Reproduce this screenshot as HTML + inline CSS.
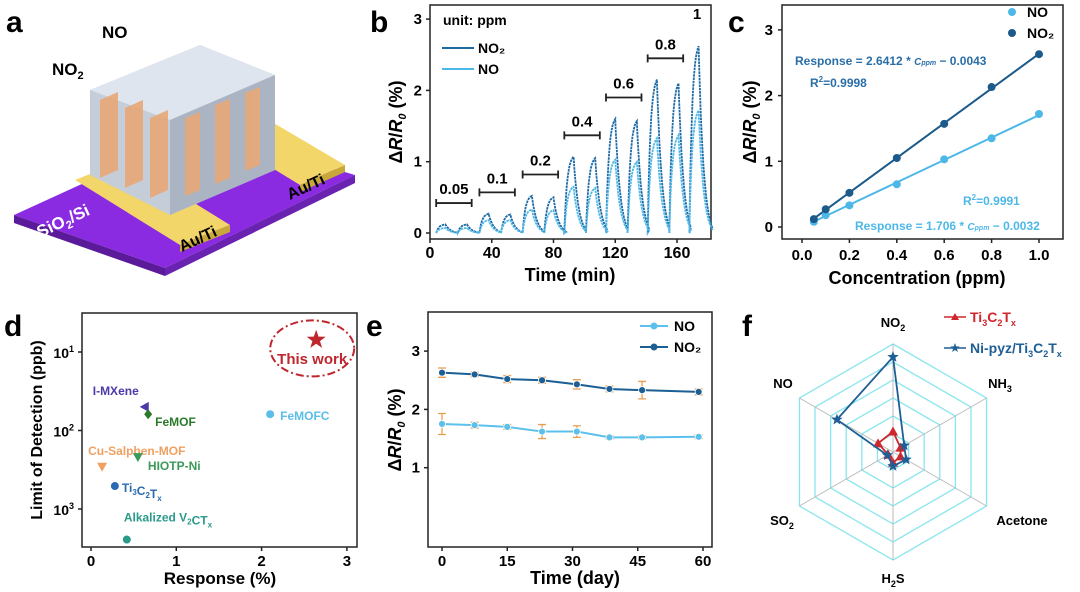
<!DOCTYPE html>
<html><head><meta charset="utf-8"><style>
html,body{margin:0;padding:0;background:#fff}
svg{display:block;font-family:"Liberation Sans",Arial,sans-serif;font-weight:bold}
</style></head><body>
<svg id="fig" width="1080" height="592" viewBox="0 0 1080 592">
<text x="6" y="32" font-size="30">a</text>
<text x="370" y="32" font-size="30">b</text>
<text x="728" y="32" font-size="30">c</text>
<text x="4" y="336" font-size="30">d</text>
<text x="366" y="336" font-size="30">e</text>
<text x="742" y="336" font-size="30">f</text>

<g>
<polygon points="14,215 200,130 355,175 165,268" fill="#8a2be2"/>
<polygon points="14,215 165,268 165,276 14,223" fill="#5a1a9a"/>
<polygon points="165,268 355,175 355,183 165,276" fill="#6a22b0"/>
<polygon points="75,180 125,160 230,225 180,245" fill="#f2d66a"/>
<polygon points="180,245 230,225 230,232 180,252" fill="#c9a83a"/>
<polygon points="210,130 255,112 345,165 300,185" fill="#f2d66a"/>
<polygon points="300,185 345,165 345,172 300,192" fill="#c9a83a"/>
<polygon points="90,90 200,45 275,75 275,170 170,215 90,175" fill="#c5cdd8"/>
<polygon points="90,90 200,45 275,75 170,120" fill="#dfe5ee"/>
<polygon points="170,120 275,75 275,170 170,215" fill="#aab4c2"/>
<g fill="#e8a878" opacity="0.9">
<polygon points="100,100 118,92 118,170 100,178"/><polygon points="125,108 143,100 143,180 125,188"/>
<polygon points="150,118 168,110 168,190 150,198"/><polygon points="185,118 200,112 200,190 185,196"/>
<polygon points="215,105 230,99 230,178 215,184"/><polygon points="245,93 260,87 260,165 245,171"/>
</g>
<text x="102" y="38" font-size="17">NO</text>
<text x="52" y="75" font-size="17">NO<tspan font-size="11" dy="4">2</tspan></text>
<text x="40" y="238" font-size="17" fill="#fff" transform="rotate(-25 40 238)">SiO<tspan font-size="11" dy="4">2</tspan><tspan dy="-4">/Si</tspan></text>
<text x="182" y="252" font-size="16" transform="rotate(-25 182 252)">Au/Ti</text>
<text x="290" y="200" font-size="16" transform="rotate(-25 290 200)">Au/Ti</text>
</g>

<g id="pb"></g>
<g id="pc"></g>
<g id="pd"></g>
<g id="pe"></g>
<g id="pf"></g>
</svg>
<script>
const bStarts=[4,18,32,46,60,74,87,101,114,128,141,155,168];
const bNO2=[0.12,0.12,0.27,0.26,0.52,0.50,1.07,1.05,1.60,1.57,2.15,2.10,2.62];
const bNO=[0.07,0.07,0.18,0.18,0.33,0.32,0.65,0.63,1.03,1.00,1.33,1.37,1.72];
const bConcLabels=['0.05','0.1','0.2','0.4','0.6','0.8','1'];
const bXTicks=[0,40,80,120,160];
const bYTicks=[0,1,2,3];
const cConc=[0.05,0.1,0.2,0.4,0.6,0.8,1.0];
const cNO2=[0.12,0.27,0.52,1.05,1.57,2.13,2.63];
const cNO=[0.08,0.18,0.33,0.65,1.03,1.35,1.72];
const cXTicks=[0,0.2,0.4,0.6,0.8,1.0];
const dNames=['This work','I-MXene','FeMOF','FeMOFC','Cu-Salphen-MOF','HIOTP-Ni','Ti3C2Tx','Alkalized V2CTx'];
const dResp=[2.64,0.63,0.67,2.10,0.13,0.55,0.28,0.42];
const dLod=[7,50,62,62,290,218,510,2450];
const eDays=[0,7.5,15,23,31,38.5,46,59];
const eNO2=[2.63,2.60,2.52,2.50,2.43,2.35,2.33,2.30];
const eNO2Err=[0.08,0.04,0.06,0.05,0.08,0.05,0.15,0.05];
const eNO=[1.75,1.73,1.70,1.62,1.62,1.52,1.52,1.53];
const eNOErr=[0.18,0.05,0.04,0.12,0.1,0.03,0.03,0.03];
const fAxes=['NO2','NH3','Acetone','H2S','SO2','NO'];
const fTi=[0.19,0.08,0.08,0.10,0.05,0.16];
const fNi=[0.88,0.12,0.14,0.13,0.06,0.60];

const NS='http://www.w3.org/2000/svg';
function mk(p,tag,a){const e=document.createElementNS(NS,tag);for(const k in a)e.setAttribute(k,a[k]);p.appendChild(e);return e;}
function txt(p,x,y,s,a){const e=mk(p,'text',Object.assign({x:x,y:y},a||{}));e.textContent=s;return e;}
function star(cx,cy,ro,ri){const p=[];for(let i=0;i<10;i++){const r=i%2?ri:ro,a=-Math.PI/2+i*Math.PI/5;p.push((cx+r*Math.cos(a)).toFixed(1)+','+(cy+r*Math.sin(a)).toFixed(1));}return p;}
const DK='#1d6aa5',LT='#4db8e8';

(function(){
const g=document.getElementById('pb');
const L=430,R=711,T=5,B=239;
const X=v=>L+v*(677-430)/160, Y=v=>233-v*71.3;
let el=mk(g,'rect',{x:L,y:T,width:R-L,height:B-T,fill:'none',stroke:'#222','stroke-width':1.5});


const RISE=6,SPAN=14;
function curve(vals,col,name){
 let d='';
 for(let i=0;i<bStarts.length;i++){
  const s=bStarts[i],pk=vals[i];
  const span=i===bStarts.length-1?15:SPAN;
  for(let t=0;t<=span;t+=0.25){
   let v=t<=RISE? pk*(1-Math.exp(-t/1.8))/(1-Math.exp(-RISE/1.8)) : pk*(Math.exp(-(t-RISE)/3.2)-(t-RISE)/span*Math.exp(-(span-RISE)/3.2));
   d+=(d?'L':'M')+X(s+t).toFixed(1)+','+Y(Math.max(v,0)).toFixed(1);
  }
 }
 const p=mk(g,'path',{d:d,fill:'none',stroke:col,'stroke-width':1.8,'stroke-dasharray':'2.5 0.8'});
 
 
}
curve(bNO2,DK,'no2-series-line');
curve(bNO,LT,'no-series-line');
for(let k=0;k<bConcLabels.length;k++){
 const a=bStarts[2*k], b=k<6?bStarts[2*k+1]+9:a+9;
 const yb=Math.max(bNO2[2*k],bNO2[Math.min(2*k+1,12)])+0.3;
 if(k<6){
  el=mk(g,'path',{d:`M${X(a)},${Y(yb)-4}v8M${X(a)},${Y(yb)}H${X(b)}M${X(b)},${Y(yb)-4}v8`,stroke:'#222','stroke-width':1.8,fill:'none'});
  
  
 }
 el=txt(g,k<6?(X(a)+X(b))/2:X(a+5),k<6?Y(yb)-9:Y(yb)-6,bConcLabels[k],{'font-size':15,'text-anchor':'middle'});
 
 
}
bXTicks.forEach(v=>{el=mk(g,'line',{x1:X(v),x2:X(v),y1:B,y2:B+4,stroke:'#222','stroke-width':1.5});
 
 el=txt(g,X(v),B+19,String(v),{'font-size':16,'text-anchor':'middle'});
 });
bYTicks.forEach(v=>{el=mk(g,'line',{x1:L-4,x2:L,y1:Y(v),y2:Y(v),stroke:'#222','stroke-width':1.5});
 
 el=txt(g,L-8,Y(v)+5,String(v),{'font-size':15,'text-anchor':'end'});
 });
el=txt(g,570,281,'Time (min)',{'font-size':18,'text-anchor':'middle'});

el=txt(g,0,0,'',{'font-size':18,'text-anchor':'middle',transform:'translate(402,122) rotate(-90)'});
el.innerHTML='Δ<tspan font-style="italic">R</tspan>/<tspan font-style="italic">R</tspan><tspan font-size="11" dy="4" font-style="italic">0</tspan><tspan dy="-4"> (%)</tspan>';

el=txt(g,443,25,'unit: ppm',{'font-size':14});

[[DK,'NO₂',48],[LT,'NO',69]].forEach(([c,s,y])=>{
 el=mk(g,'line',{x1:442,x2:474,y1:y,y2:y,stroke:c,'stroke-width':2});
 
 el=txt(g,478,y+5,s,{'font-size':14});
 
});
})();

(function(){
const g=document.getElementById('pc');
const L=782,R=1063,T=5,B=239;
const X=v=>802+v*237, Y=v=>227-v*65.7;
let el=mk(g,'rect',{x:L,y:T,width:R-L,height:B-T,fill:'none',stroke:'#222','stroke-width':1.5});

el=mk(g,'line',{x1:X(0.05),y1:Y(2.6412*0.05-0.0043),x2:X(1),y2:Y(2.6412-0.0043),stroke:'#1b5a8a','stroke-width':2});

el=mk(g,'line',{x1:X(0.05),y1:Y(1.706*0.05-0.0032),x2:X(1),y2:Y(1.706-0.0032),stroke:LT,'stroke-width':2});

cConc.forEach((c,i)=>{
 el=mk(g,'circle',{cx:X(c),cy:Y(cNO[i]),r:4,fill:LT});
 
 el=mk(g,'circle',{cx:X(c),cy:Y(cNO2[i]),r:4,fill:'#1b5a8a'});
 
});
cXTicks.forEach(v=>{el=mk(g,'line',{x1:X(v),x2:X(v),y1:B,y2:B+4,stroke:'#222','stroke-width':1.5});
 
 el=txt(g,X(v),B+21,v.toFixed(1),{'font-size':15,'text-anchor':'middle'});
 });
[0,1,2,3].forEach(v=>{el=mk(g,'line',{x1:L-4,x2:L,y1:Y(v),y2:Y(v),stroke:'#222','stroke-width':1.5});
 
 el=txt(g,L-9,Y(v)+5,String(v),{'font-size':15,'text-anchor':'end'});
 });
el=txt(g,917,284,'Concentration (ppm)',{'font-size':18,'text-anchor':'middle'});

el=txt(g,0,0,'',{'font-size':18,'text-anchor':'middle',transform:'translate(756,122) rotate(-90)'});
el.innerHTML='Δ<tspan font-style="italic">R</tspan>/<tspan font-style="italic">R</tspan><tspan font-size="11" dy="4" font-style="italic">0</tspan><tspan dy="-4"> (%)</tspan>';

el=txt(g,795,65,'',{'font-size':12,fill:'#2a6ea8'});
el.innerHTML='Response = 2.6412 * <tspan font-style="italic" font-size="10">C</tspan><tspan font-style="italic" font-size="7">ppm</tspan> − 0.0043';

el=txt(g,810,87,'',{'font-size':12,fill:'#2a6ea8'});el.innerHTML='R<tspan font-size="8" dy="-5">2</tspan><tspan dy="5">=0.9998</tspan>';

el=txt(g,963,205,'',{'font-size':12,fill:LT});el.innerHTML='R<tspan font-size="8" dy="-5">2</tspan><tspan dy="5">=0.9991</tspan>';

el=txt(g,855,230,'',{'font-size':12,fill:LT});
el.innerHTML='Response = 1.706 * <tspan font-style="italic" font-size="10">C</tspan><tspan font-style="italic" font-size="7">ppm</tspan> − 0.0032';

[[LT,'NO',17],['#1b5a8a','NO₂',38]].forEach(([c,s,y])=>{
 el=mk(g,'circle',{cx:1012,cy:y-5,r:4,fill:c});
 
 el=txt(g,1027,y,s,{'font-size':14});
 
});
})();

(function(){
const g=document.getElementById('pd');
const L=82,R=357,T=313,B=547;
const X=v=>91+v*85.3, Y=v=>352+(Math.log10(v)-1)*78.5;
let el=mk(g,'rect',{x:L,y:T,width:R-L,height:B-T,fill:'none',stroke:'#222','stroke-width':1.5});

const cols=['#c0262d','#4b3aa8','#2a7a2a','#5bbde8','#f0a060','#3a9a5a','#2a6ab0','#2a9a8a'];
const lblOff=[[-999,0],[-52,-12],[7,12],[10,6],[-14,-12],[10,13],[7,6],[-3,-18]];
dNames.forEach((n,i)=>{
 const x=X(dResp[i]),y=Y(dLod[i]);let m;
 if(i===0){m=mk(g,'polygon',{points:star(x,y,10,4).join(' '),fill:cols[i]});}
 else if(i===4||i===5){m=mk(g,'polygon',{points:`${x-5},${y-4} ${x+5},${y-4} ${x},${y+5}`,fill:cols[i]});}
 else if(i===1){m=mk(g,'polygon',{points:`${x-5},${y} ${x+4},${y-5} ${x+4},${y+5}`,fill:cols[i]});}
 else if(i===2){m=mk(g,'polygon',{points:`${x},${y-5} ${x+4},${y} ${x},${y+5} ${x-4},${y}`,fill:cols[i]});}
 else m=mk(g,'circle',{cx:x,cy:y,r:4,fill:cols[i]});
 
 if(i>0){
  const t=txt(g,x+lblOff[i][0],y+lblOff[i][1],'',{'font-size':12,fill:cols[i]});
  t.innerHTML=n.replace(/(\d)/g,'<tspan font-size="8" dy="3">$1</tspan><tspan dy="-3"></tspan>').replace(/Tx/g,'T<tspan font-size="8" dy="3">x</tspan>');
  
 }
});
el=mk(g,'ellipse',{cx:X(2.64)-4,cy:Y(9),rx:42,ry:28,fill:'none',stroke:'#c0262d','stroke-width':2,'stroke-dasharray':'8 3 2 3'});

el=txt(g,X(2.64)-4,Y(10)+12,'This work',{'font-size':15,'text-anchor':'middle',fill:'#c0262d'});

[0,1,2,3].forEach(v=>{el=mk(g,'line',{x1:X(v),x2:X(v),y1:B,y2:B+4,stroke:'#222','stroke-width':1.5});
 
 el=txt(g,X(v),B+19,String(v),{'font-size':15,'text-anchor':'middle'});
 });
[10,100,1000].forEach((v,k)=>{el=mk(g,'line',{x1:L-4,x2:L,y1:Y(v),y2:Y(v),stroke:'#222','stroke-width':1.5});
 
 el=txt(g,L-8,Y(v)+6,'',{'font-size':14,'text-anchor':'end'});el.innerHTML='10<tspan font-size="9" dy="-6">'+(k+1)+'</tspan>';
 });
el=txt(g,220,584,'Response (%)',{'font-size':17,'text-anchor':'middle'});

el=txt(g,0,0,'Limit of Detection (ppb)',{'font-size':16,'text-anchor':'middle',transform:'translate(42,430) rotate(-90)'});

})();

(function(){
const g=document.getElementById('pe');
const L=428,R=712,T=312,B=547;
const X=v=>442+v*4.35, Y=v=>526-v*58.3;
let el=mk(g,'rect',{x:L,y:T,width:R-L,height:B-T,fill:'none',stroke:'#222','stroke-width':1.5});

function ser(v,err,col,name){
 v.forEach((y,i)=>{el=mk(g,'path',{d:`M${X(eDays[i])},${Y(y-err[i])}V${Y(y+err[i])}M${X(eDays[i])-4},${Y(y-err[i])}h8M${X(eDays[i])-4},${Y(y+err[i])}h8`,stroke:'#e8a050','stroke-width':1.3,fill:'none'});
  });
 el=mk(g,'polyline',{points:v.map((y,i)=>X(eDays[i])+','+Y(y)).join(' '),fill:'none',stroke:col,'stroke-width':2});
 
 v.forEach((y,i)=>{el=mk(g,'circle',{cx:X(eDays[i]),cy:Y(y),r:3.5,fill:col,stroke:'#fff','stroke-width':0.8});
  });
}
ser(eNO,eNOErr,'#5bc0eb','no');
ser(eNO2,eNO2Err,'#1b5f94','no2');
[0,15,30,45,60].forEach(v=>{el=mk(g,'line',{x1:X(v),x2:X(v),y1:B,y2:B+4,stroke:'#222','stroke-width':1.5});
 
 el=txt(g,X(v),B+19,String(v),{'font-size':15,'text-anchor':'middle'});
 });
[1,2,3].forEach(v=>{el=mk(g,'line',{x1:L-4,x2:L,y1:Y(v),y2:Y(v),stroke:'#222','stroke-width':1.5});
 
 el=txt(g,L-8,Y(v)+5,String(v),{'font-size':15,'text-anchor':'end'});
 });
el=txt(g,575,584,'Time (day)',{'font-size':18,'text-anchor':'middle'});

el=txt(g,0,0,'',{'font-size':18,'text-anchor':'middle',transform:'translate(401,430) rotate(-90)'});
el.innerHTML='Δ<tspan font-style="italic">R</tspan>/<tspan font-style="italic">R</tspan><tspan font-size="11" dy="4" font-style="italic">0</tspan><tspan dy="-4"> (%)</tspan>';

[['#5bc0eb','NO',326],['#1b5f94','NO₂',347]].forEach(([c,s,y])=>{
 el=mk(g,'line',{x1:640,x2:668,y1:y,y2:y,stroke:c,'stroke-width':2});
 
 el=mk(g,'circle',{cx:654,cy:y,r:3.5,fill:c});
 
 el=txt(g,674,y+5,s,{'font-size':14});
 
});
})();

(function(){
const g=document.getElementById('pf');
const cx=893,cy=452,Rr=108;
const P=(i,f)=>{const a=-Math.PI/2+i*Math.PI/3;return [cx+Rr*f*Math.cos(a),cy+Rr*f*Math.sin(a)];};
let el;
for(let k=1;k<=6;k++){
 el=mk(g,'polygon',{points:fAxes.map((_,i)=>P(i,k/6).join(',')).join(' '),fill:'none',stroke:'#8ae6ee','stroke-width':1.3});
 
}
fAxes.forEach((_,i)=>{const p=P(i,1);el=mk(g,'line',{x1:cx,y1:cy,x2:p[0],y2:p[1],stroke:'#bbb','stroke-width':1});
 });
function ser(v,col,name,isStar){
 el=mk(g,'polygon',{points:v.map((f,i)=>P(i,f).join(',')).join(' '),fill:'none',stroke:col,'stroke-width':1.8});
 
 v.forEach((f,i)=>{const [x,y]=P(i,f);
  el=isStar?mk(g,'polygon',{points:star(x,y,6,2.5).join(' '),fill:col}):mk(g,'polygon',{points:`${x},${y-5} ${x+5},${y+4} ${x-5},${y+4}`,fill:col});
  });
}
ser(fTi,'#d0262d','ti3c2tx',false);
ser(fNi,'#1f5f95','ni-pyz',true);
const lp=[[893,327,'middle'],[1000,388,'middle'],[1022,525,'middle'],[893,583,'middle'],[782,525,'middle'],[783,388,'middle']];
const lbl=['NO<tspan font-size="9" dy="4">2</tspan>','NH<tspan font-size="9" dy="4">3</tspan>','Acetone','H<tspan font-size="9" dy="4">2</tspan><tspan dy="-4">S</tspan>','SO<tspan font-size="9" dy="4">2</tspan>','NO'];
lp.forEach((p,i)=>{el=txt(g,p[0],p[1],'',{'font-size':13,'text-anchor':p[2]});el.innerHTML=lbl[i];
 });
[['#d0262d',false,322,'Ti<tspan font-size="9" dy="4">3</tspan><tspan dy="-4">C</tspan><tspan font-size="9" dy="4">2</tspan><tspan dy="-4">T</tspan><tspan font-size="9" dy="4">x</tspan>'],
 ['#1f5f95',true,353,'Ni-pyz/Ti<tspan font-size="9" dy="4">3</tspan><tspan dy="-4">C</tspan><tspan font-size="9" dy="4">2</tspan><tspan dy="-4">T</tspan><tspan font-size="9" dy="4">x</tspan>']].forEach(([c,s,y,h])=>{
 el=mk(g,'line',{x1:944,x2:966,y1:y-5,y2:y-5,stroke:c,'stroke-width':1.5});
 
 el=s?mk(g,'polygon',{points:star(955,y-5,5,2).join(' '),fill:c}):mk(g,'polygon',{points:`955,${y-9} 959,${y-2} 951,${y-2}`,fill:c});
 
 el=txt(g,970,y,'',{'font-size':14,fill:c});el.innerHTML=h;
 
});
})();
</script>
</body></html>
